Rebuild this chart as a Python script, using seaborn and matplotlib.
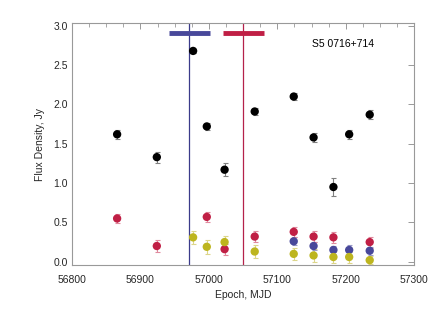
import numpy as np
import pandas as pd
import matplotlib
matplotlib.use("Agg")
import matplotlib.pyplot as plt
import seaborn as sns

# Data (MJD, flux density in Jy, error)
black_mjd = [56866, 56924, 56977, 56997, 57023, 57067, 57124, 57153, 57182, 57205, 57235]
black_flux = [1.62, 1.33, 2.68, 1.72, 1.17, 1.91, 2.10, 1.58, 0.95, 1.62, 1.87]
black_err = [0.06, 0.07, 0.03, 0.05, 0.08, 0.05, 0.04, 0.06, 0.11, 0.06, 0.06]

red_mjd = [56866, 56924, 56997, 57023, 57067, 57124, 57153, 57182, 57235]
red_flux = [0.55, 0.20, 0.57, 0.16, 0.32, 0.38, 0.32, 0.31, 0.25]
red_err = [0.06, 0.08, 0.06, 0.07, 0.07, 0.06, 0.07, 0.07, 0.07]

blue_mjd = [57124, 57153, 57182, 57205, 57235]
blue_flux = [0.26, 0.20, 0.15, 0.15, 0.14]
blue_err = [0.05, 0.05, 0.05, 0.06, 0.05]

yellow_mjd = [56977, 56997, 57023, 57067, 57124, 57153, 57182, 57205, 57235]
yellow_flux = [0.31, 0.19, 0.25, 0.13, 0.10, 0.08, 0.06, 0.06, 0.02]
yellow_err = [0.08, 0.09, 0.08, 0.08, 0.08, 0.08, 0.07, 0.07, 0.05]

blue_line = 56971.5
red_line = 57050.5
blue_bar = (56942, 57002)
red_bar = (57020, 57081)
bar_y = 2.91
source = "S5 0716+714"

sns.set_style("white")
plt.rcParams['font.family'] = ['Liberation Sans', 'DejaVu Sans']

colors = {"black": "#000000", "red": "#c01f45", "blue": "#48489a", "yellow": "#bdb51e"}
err_colors = {"black": "#808080", "red": "#e08a9e", "blue": "#9a9ac8", "yellow": "#dcd68a"}

frames = []
for name, m, f, e in [("black", black_mjd, black_flux, black_err),
                      ("red", red_mjd, red_flux, red_err),
                      ("blue", blue_mjd, blue_flux, blue_err),
                      ("yellow", yellow_mjd, yellow_flux, yellow_err)]:
    frames.append(pd.DataFrame({"mjd": m, "flux": f, "err": e, "series": name}))
df = pd.concat(frames, ignore_index=True)

fig = plt.figure(figsize=(4.36, 3.12), dpi=100)
ax = fig.add_axes([0.165, 0.151, 0.785, 0.774])

for name in ["yellow", "blue", "red", "black"]:
    sub = df[df.series == name]
    ax.errorbar(sub.mjd, sub.flux, yerr=sub.err, fmt="none", ecolor=err_colors[name],
                elinewidth=0.8, capsize=1.8, capthick=0.8, zorder=2)

sns.scatterplot(data=df, x="mjd", y="flux", hue="series", palette=colors,
                hue_order=["yellow", "blue", "red", "black"], s=36, edgecolor="none",
                legend=False, ax=ax, zorder=3)

ax.axvline(blue_line, color="#3b3b8a", lw=0.9, zorder=1)
ax.axvline(red_line, color="#b5214a", lw=0.9, zorder=1)
ax.hlines(bar_y, *blue_bar, color="#48489a", lw=3.5, zorder=4)
ax.hlines(bar_y, *red_bar, color="#c01f45", lw=3.5, zorder=4)

ax.text(57150, 2.77, source, fontsize=7.5, color="black", ha="left", va="center")

ax.set_xlim(56800, 57300)
ax.set_ylim(-0.04, 3.03)
ax.set_xticks([56800, 56900, 57000, 57100, 57200, 57300])
ax.set_xticks(np.arange(56800, 57301, 25), minor=True)
ax.set_yticks([0.0, 0.5, 1.0, 1.5, 2.0, 2.5, 3.0])
ax.set_yticklabels(["0.0", "0.5", "1.0", "1.5", "2.0", "2.5", "3.0"])
ax.set_xlabel("Epoch, MJD", fontsize=7.5, labelpad=4)
ax.set_ylabel("Flux Density, Jy", fontsize=7.5, labelpad=6)

for s in ax.spines.values():
    s.set_color("#999999")
    s.set_linewidth(0.8)
ax.tick_params(axis="both", which="both", direction="in", color="#999999",
               top=True, right=True, labelsize=7.5)
ax.tick_params(axis="both", which="major", length=4, width=0.7)
ax.tick_params(axis="y", which="major", pad=3)
ax.tick_params(axis="x", which="major", pad=7)
ax.tick_params(axis="x", which="minor", length=3, width=0.6)

fig.savefig("out.png", dpi=100)
